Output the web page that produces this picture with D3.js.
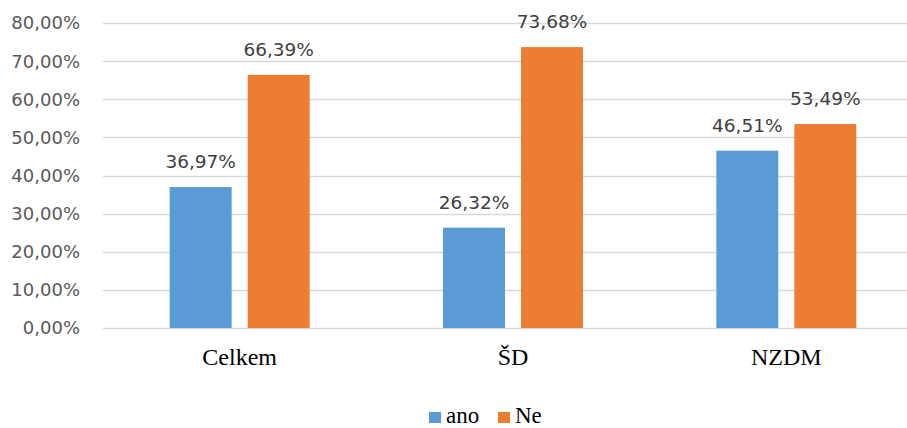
<!DOCTYPE html>
<html>
<head>
<meta charset="utf-8">
<script src="https://cdn.jsdelivr.net/npm/d3@7"></script>
<style>
  body { margin: 0; background: #fff; }
  svg { display: block; }
</style>
</head>
<body>
<script>
/*
    DATA
*/
var categories = ["Celkem", "ŠD", "NZDM"];
var seriesNames = ["ano", "Ne"];
var anoValues = [0.3697, 0.2632, 0.4651];
var neValues = [0.6639, 0.7368, 0.5349];
var yTicks = [0, 0.1, 0.2, 0.3, 0.4, 0.5, 0.6, 0.7, 0.8];
var colors = ["#5B9BD5", "#ED7D31"];

/*
    LAYOUT
*/
var width = 907;
var height = 428;
var plot = {left: 103, right: 923, top: 23, bottom: 328};

var svg = d3.select("body").append("svg")
    .attr("width", width)
    .attr("height", height);

var x = d3.scaleBand()
    .domain(categories)
    .range([plot.left, plot.right]);

// two bars of 62px with a 16px gap
var x1 = d3.scaleBand()
    .domain(seriesNames)
    .range([0, 140])
    .paddingInner(16 / 78);

var y = d3.scaleLinear()
    .domain([0, 0.8])
    .range([plot.bottom, plot.top]);

var pct = function(v) { return d3.format(".2f")(v * 100).replace(".", ",") + "%"; };

// gridlines
svg.append("g").selectAll("line")
    .data(yTicks)
    .enter().append("line")
    .attr("x1", plot.left)
    .attr("x2", width)
    .attr("y1", function(d) { return Math.round(y(d)) + 0.5; })
    .attr("y2", function(d) { return Math.round(y(d)) + 0.5; })
    .style("stroke", "#D9D9D9")
    .style("stroke-width", 1.3);

// y tick labels
svg.append("g").selectAll("text")
    .data(yTicks)
    .enter().append("text")
    .attr("x", 80)
    .attr("y", function(d) { return y(d); })
    .attr("dy", "0.36em")
    .attr("text-anchor", "end")
    .style("font-family", "DejaVu Sans")
    .style("font-size", "18px")
    .style("fill", "#595959")
    .text(pct);

// bars
var rows = [];
categories.forEach(function(c, i) {
  rows.push({cat: c, s: "ano", v: anoValues[i]});
  rows.push({cat: c, s: "Ne", v: neValues[i]});
});

var groupOffset = (x.bandwidth() - 140) / 2;

svg.append("g").selectAll("rect")
    .data(rows)
    .enter().append("rect")
    .attr("x", function(d) { return x(d.cat) + groupOffset + x1(d.s); })
    .attr("y", function(d) { return y(d.v); })
    .attr("width", x1.bandwidth())
    .attr("height", function(d) { return y(0) - y(d.v); })
    .style("fill", function(d) { return colors[seriesNames.indexOf(d.s)]; });

// value labels
svg.append("g").selectAll("text")
    .data(rows)
    .enter().append("text")
    .attr("x", function(d) { return x(d.cat) + groupOffset + x1(d.s) + x1.bandwidth() / 2; })
    .attr("y", function(d) { return y(d.v) - 19; })
    .attr("text-anchor", "middle")
    .style("font-family", "DejaVu Sans")
    .style("font-size", "18.5px")
    .style("fill", "#404040")
    .text(function(d) { return pct(d.v); });

// category labels
svg.append("g").selectAll("text")
    .data(categories)
    .enter().append("text")
    .attr("x", function(d) { return x(d) + x.bandwidth() / 2; })
    .attr("y", 365)
    .attr("text-anchor", "middle")
    .style("font-family", "Liberation Serif")
    .style("font-size", "24px")
    .style("fill", "#000")
    .text(function(d) { return d; });

// legend
var legendX = [429, 498];
var legend = svg.append("g").selectAll("g")
    .data(seriesNames)
    .enter().append("g")
    .attr("transform", function(d, i) { return "translate(" + legendX[i] + ",0)"; });

legend.append("rect")
    .attr("x", 0)
    .attr("y", 412)
    .attr("width", 12)
    .attr("height", 11)
    .style("fill", function(d, i) { return colors[i]; });

legend.append("text")
    .attr("x", 17)
    .attr("y", 423)
    .style("font-family", "Liberation Serif")
    .style("font-size", "23px")
    .style("fill", "#000")
    .text(function(d) { return d; });
</script>
</body>
</html>
